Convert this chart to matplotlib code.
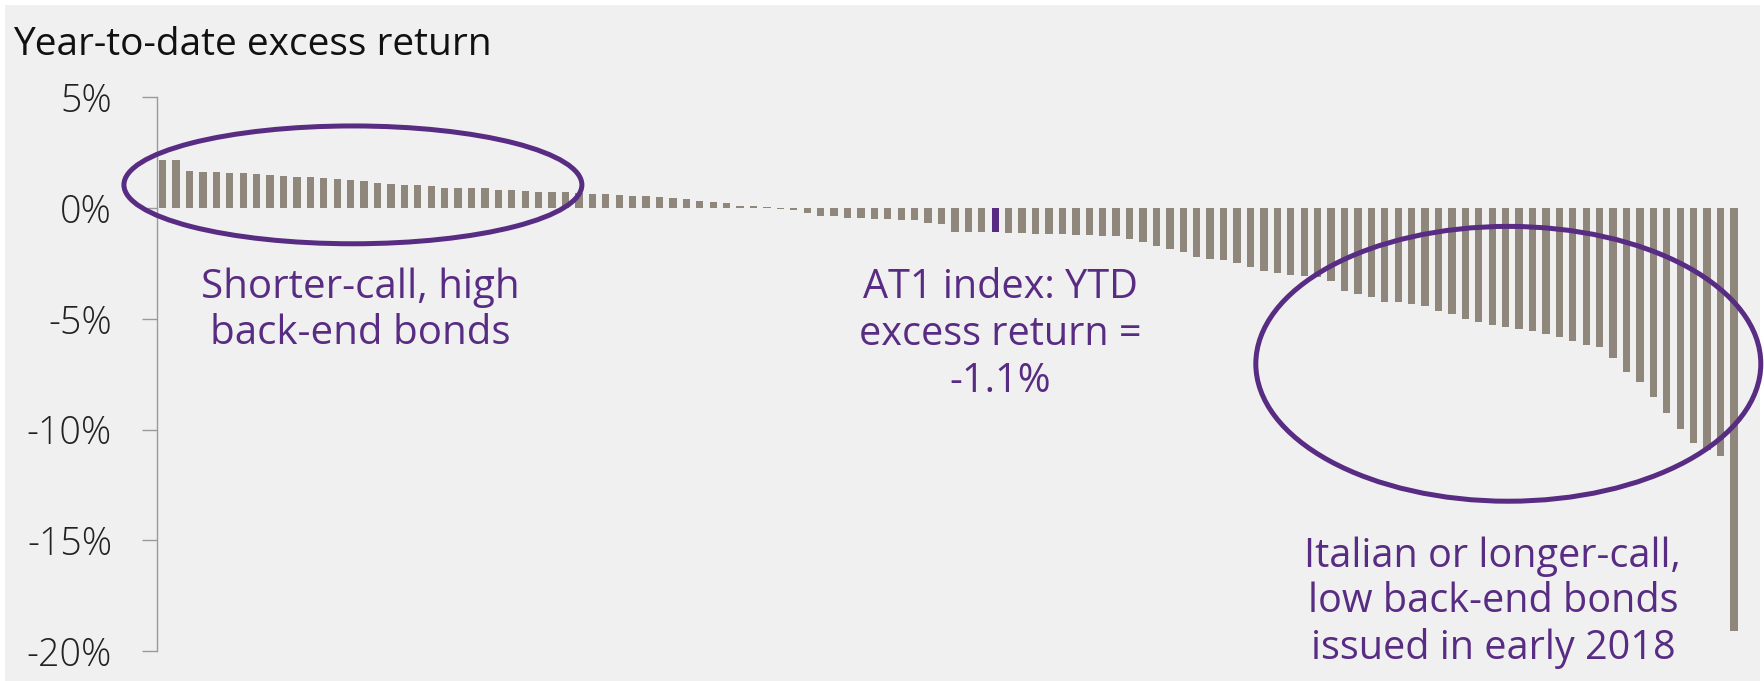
import numpy as np
import matplotlib
matplotlib.use('Agg')
import matplotlib.pyplot as plt
from matplotlib.patches import Ellipse, Rectangle
from matplotlib.ticker import FuncFormatter

plt.rcParams['font.family'] = ['Open Sans', 'DejaVu Sans']

# year-to-date excess return of each AT1 bond, sorted high to low (%)
returns = [2.19, 2.19, 1.69, 1.62, 1.62, 1.59, 1.57, 1.54, 1.50, 1.45,
           1.41, 1.39, 1.36, 1.33, 1.29, 1.24, 1.14, 1.09, 1.06, 1.03,
           1.02, 0.91, 0.91, 0.90, 0.90, 0.82, 0.81, 0.78, 0.75, 0.73,
           0.72, 0.69, 0.63, 0.63, 0.57, 0.54, 0.54, 0.48, 0.45, 0.40,
           0.32, 0.26, 0.23, 0.11, 0.10, 0.05, -0.04, -0.07, -0.20, -0.37,
           -0.37, -0.43, -0.46, -0.50, -0.50, -0.55, -0.55, -0.65, -0.71, -1.06,
           -1.09, -1.10, -1.10, -1.13, -1.13, -1.16, -1.16, -1.19, -1.22, -1.22,
           -1.27, -1.28, -1.40, -1.51, -1.72, -1.86, -1.98, -2.19, -2.29, -2.36,
           -2.49, -2.67, -2.83, -2.95, -3.04, -3.05, -3.11, -3.27, -3.76, -3.86,
           -4.02, -4.22, -4.23, -4.35, -4.44, -4.64, -4.76, -5.02, -5.16, -5.27,
           -5.39, -5.47, -5.53, -5.69, -5.80, -6.01, -6.19, -6.28, -6.76, -7.42,
           -7.86, -8.51, -9.26, -9.98, -10.61, -10.90, -11.19, -19.11]
index_pos = 62   # the AT1 index itself
yticks = [5, 0, -5, -10, -15, -20]

title = 'Year-to-date excess return'
note_left = 'Shorter-call, high\nback-end bonds'
note_mid = 'AT1 index: YTD\nexcess return =\n-1.1%'
note_right = 'Italian or longer-call,\nlow back-end bonds\nissued in early 2018'

BAR = '#8F877B'
PURPLE = '#582C83'
BG = '#F0F0F0'

fig = plt.figure(figsize=(17.65, 6.81), dpi=100, facecolor='white')
fig.patches.append(Rectangle((5 / 1765, 0), 1755 / 1765, 676 / 681,
                             transform=fig.transFigure, facecolor=BG,
                             edgecolor='none', zorder=-10))

ax = fig.add_axes([0.0887, 0.0440, 0.8975, 0.8130])
ax.set_facecolor('none')

x = np.arange(len(returns))
colors = [PURPLE if i == index_pos else BAR for i in x]
ax.bar(x, returns, width=0.545, color=colors, zorder=2)

ax.set_xlim(-0.45, len(returns) - 0.5)
ax.set_ylim(-20, 5)
ax.set_yticks(yticks)
ax.yaxis.set_major_formatter(FuncFormatter(lambda v, p: '{:.0f}%'.format(v)))
ax.tick_params(axis='y', direction='out', length=11, width=1, color='#9A9A9A',
               pad=21, labelsize=27, labelcolor='#222222')
for lbl in ax.get_yticklabels():
    lbl.set_fontweight('light')
ax.set_xticks([])
for s in ['top', 'right', 'bottom']:
    ax.spines[s].set_visible(False)
ax.spines['left'].set_color('#9A9A9A')
ax.spines['left'].set_linewidth(1)

# call-out rings
ax.add_patch(Ellipse((14.17, 1.05), 34.1, 5.32, fill=False, edgecolor=PURPLE,
                     linewidth=3.6, clip_on=False, zorder=3))
ax.add_patch(Ellipse((100.2, -7.03), 37.6, 12.41, fill=False, edgecolor=PURPLE,
                     linewidth=3.6, clip_on=False, zorder=3))

ax.text(14.7, -4.62, note_left, ha='center', va='center', fontsize=29,
        color=PURPLE, linespacing=1.17)
ax.text(62.4, -5.72, note_mid, ha='center', va='center', fontsize=28.5,
        color=PURPLE, linespacing=1.2)
ax.text(99.05, -17.8, note_right, ha='center', va='center', fontsize=28.5,
        color=PURPLE, linespacing=1.17)

fig.text(13 / 1765, 1 - 45 / 681, title, ha='left', va='center', fontsize=28,
         color='#111111')

fig.savefig('out.png', dpi=100, facecolor=fig.get_facecolor())
